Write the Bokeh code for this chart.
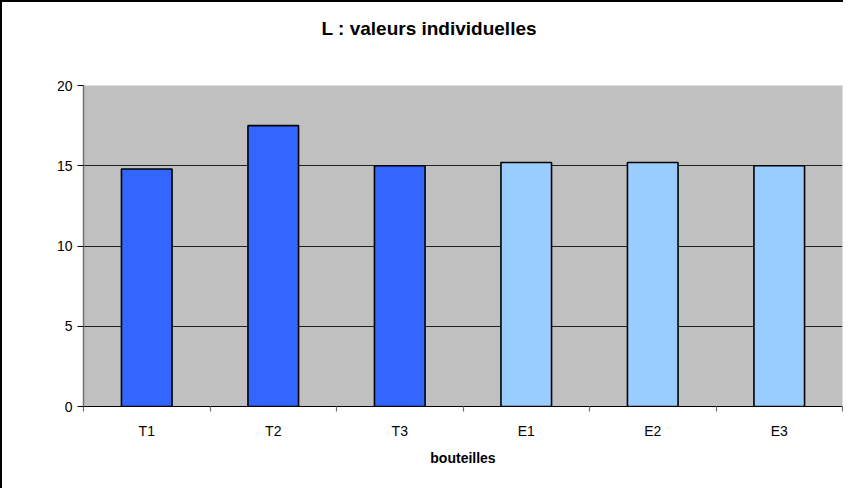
from bokeh.plotting import figure
from bokeh.models import ColumnDataSource, FixedTicker, Range1d, Title
from bokeh.embed import file_html
from bokeh.resources import INLINE

categories = ["T1", "T2", "T3", "E1", "E2", "E3"]
values = [14.8, 17.5, 15.0, 15.2, 15.2, 15.0]
colors = ["#3366FF", "#3366FF", "#3366FF", "#99CCFF", "#99CCFF", "#99CCFF"]
y_ticks = [0, 5, 10, 15, 20]

xs = [i + 0.5 for i in range(len(categories))]
src = ColumnDataSource(dict(x=xs, top=values, color=colors, cat=categories))

p = figure(width=843, height=488, output_backend="svg", toolbar_location=None,
           x_range=Range1d(0, len(categories)), y_range=Range1d(0, 20),
           min_border_left=81, min_border_right=3, min_border_top=83, min_border_bottom=84)
p.styles = {"border-left": "2px solid black", "border-top": "2px solid black"}
p.background_fill_color = "#C0C0C0"
p.border_fill_color = "white"
p.outline_line_color = None

p.vbar(x="x", top="top", bottom=0, width=0.4, fill_color="color",
       line_color="black", line_width=1.6, source=src)

# y axis
p.yaxis.ticker = FixedTicker(ticks=y_ticks)
p.yaxis.axis_line_color = "#707070"
p.yaxis.axis_line_width = 1.5
p.yaxis.major_tick_line_color = "black"
p.yaxis.major_tick_in = 0
p.yaxis.major_tick_out = 6
p.yaxis.minor_tick_line_color = None
p.yaxis.major_label_text_font = "Liberation Sans"
p.yaxis.major_label_text_font_size = "14px"
p.yaxis.major_label_text_color = "black"
p.yaxis.major_label_standoff = 5

# x axis
p.xaxis.ticker = FixedTicker(ticks=xs, minor_ticks=list(range(len(categories) + 1)))
p.xaxis.major_label_overrides = {x: c for x, c in zip(xs, categories)}
p.xaxis.major_tick_in = 0
p.xaxis.major_tick_out = 0
p.xaxis.minor_tick_in = 0
p.xaxis.minor_tick_out = 5
p.xaxis.minor_tick_line_color = "#707070"
p.xaxis.minor_tick_line_width = 1.2
p.xaxis.axis_line_color = "black"
p.xaxis.axis_line_width = 1.2
p.xaxis.major_label_text_font = "Liberation Sans"
p.xaxis.major_label_text_font_size = "14px"
p.xaxis.major_label_text_color = "black"
p.xaxis.major_label_standoff = 11
p.xaxis.axis_label = "bouteilles"
p.xaxis.axis_label_text_font = "Liberation Sans"
p.xaxis.axis_label_text_font_style = "bold"
p.xaxis.axis_label_text_font_size = "14px"
p.xaxis.axis_label_text_color = "black"
p.xaxis.axis_label_standoff = 8

# grid
p.xgrid.grid_line_color = None
p.ygrid.ticker = FixedTicker(ticks=[5, 10, 15])
p.ygrid.grid_line_color = "#202020"
p.ygrid.grid_line_width = 1

spacer = Title(text=" ", text_font_size="26px", text_color="white")
p.add_layout(spacer, "above")
title = Title(text="L : valeurs individuelles", align="left", offset=238,
              text_font="Liberation Sans", text_font_style="bold",
              text_font_size="19px", text_color="black")
p.add_layout(title, "above")

open("out.html", "w").write(file_html(p, INLINE))
